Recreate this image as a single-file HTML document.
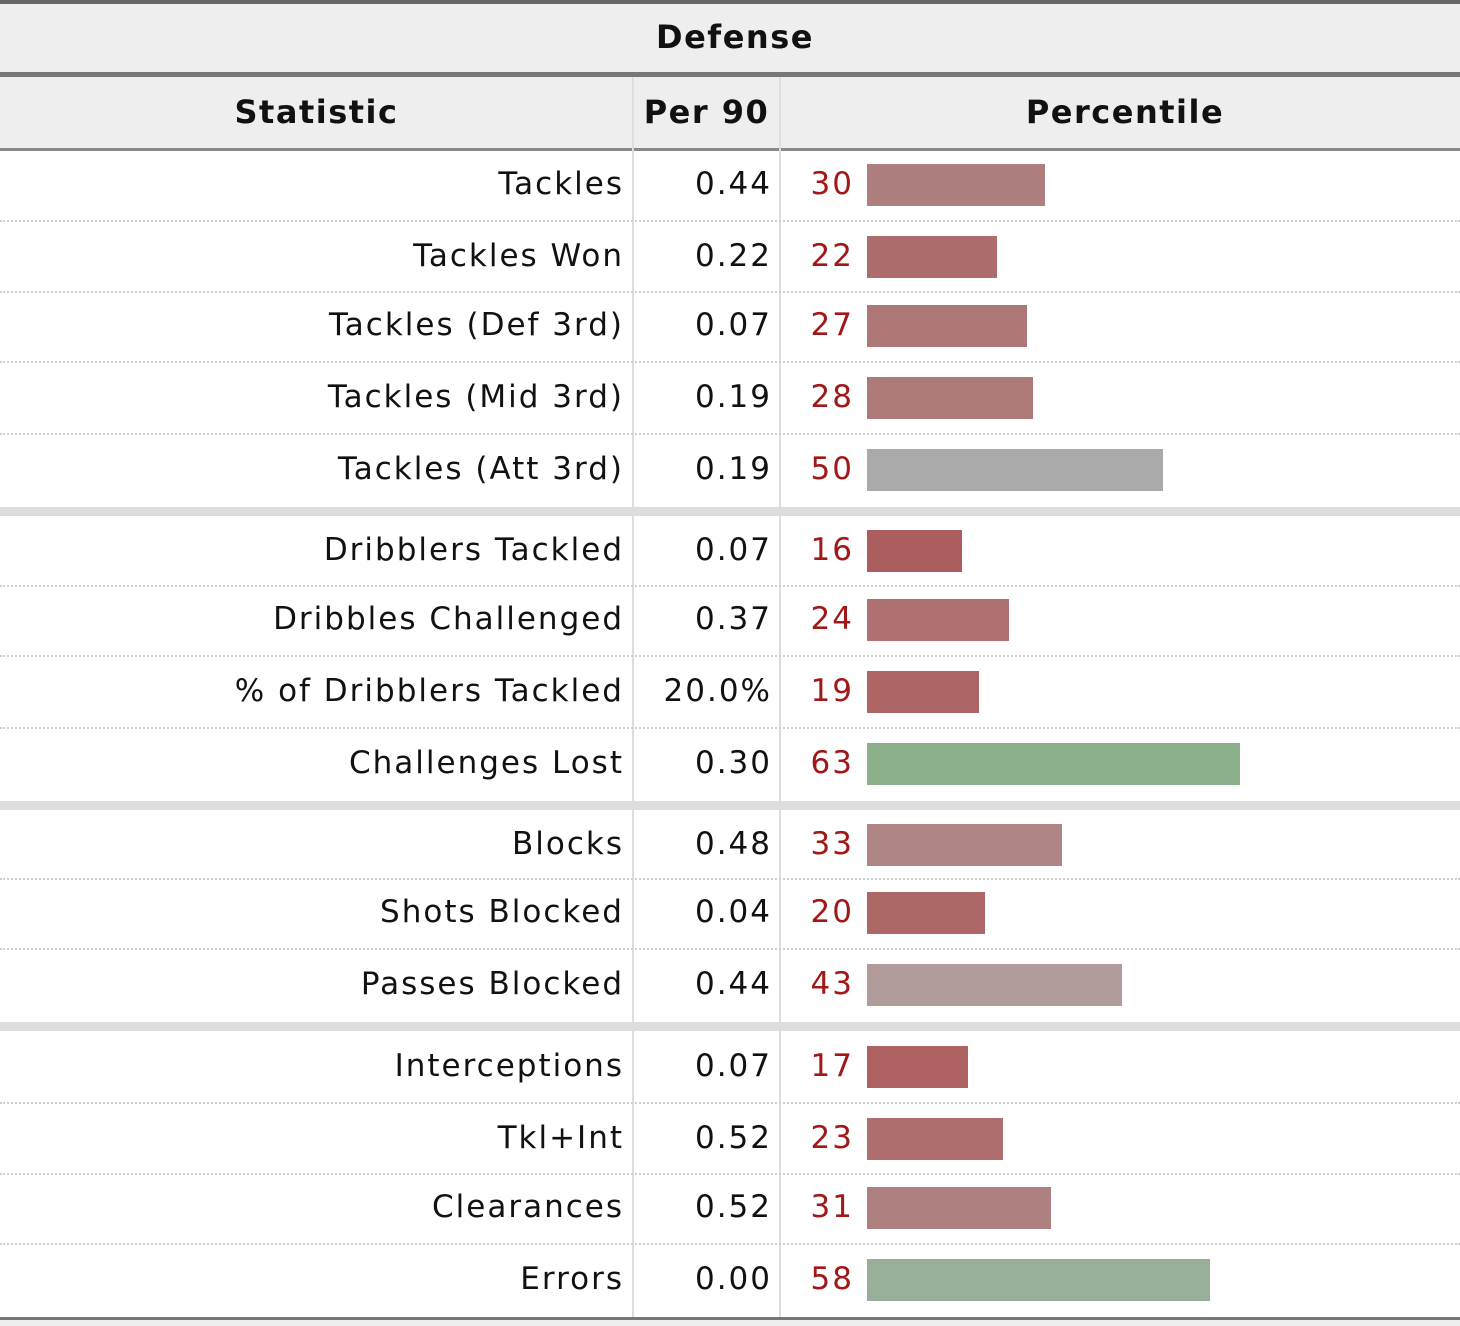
<!DOCTYPE html>
<html><head><meta charset="utf-8">
<style>
body{margin:0;width:1460px;height:1326px;background:#fff;position:relative;overflow:hidden;font-family:"DejaVu Sans","Liberation Sans",sans-serif;color:#111}
.a{position:absolute}
.hdr{font-weight:bold;font-size:32px;text-align:center;letter-spacing:1.5px}
.stat,.p90,.pnum{font-size:31px;white-space:nowrap;line-height:40px;letter-spacing:2px}
.stat{text-align:right;right:836px}
.p90{text-align:right;right:688px}
.pnum{text-align:right;right:606px;color:#a01818}
.dot{left:0;width:1460px;height:0;border-top:2px dotted #cfcfcf}
.sep{left:0;width:1460px;height:9px;background:#ddd}
.bar{left:867px;height:42px}
</style></head>
<body>
<div class="a" style="left:0;top:0;width:1460px;height:4px;background:#666"></div>
<div class="a" style="left:0;top:4px;width:1460px;height:68px;background:#eee"></div>
<div class="a hdr" style="left:0;width:1470px;top:18px">Defense</div>
<div class="a" style="left:0;top:72px;width:1460px;height:5px;background:#777"></div>
<div class="a" style="left:0;top:77px;width:1460px;height:71px;background:#eee"></div>
<div class="a hdr" style="left:0;width:633px;top:93px">Statistic</div>
<div class="a hdr" style="left:633px;width:147px;top:93px">Per 90</div>
<div class="a hdr" style="left:780px;width:690px;top:93px">Percentile</div>
<div class="a" style="left:0;top:148px;width:1460px;height:3px;background:#888"></div>
<div class="a" style="left:632px;top:77px;width:2px;height:1240px;background:#ddd"></div>
<div class="a" style="left:779px;top:77px;width:2px;height:1240px;background:#ddd"></div>
<div class="a" style="left:0;top:1317px;width:1460px;height:3px;background:#777"></div>
<div class="a" style="left:0;top:1320px;width:1460px;height:6px;background:#eee"></div>
<div id="rows"></div>
<script>
const stats=["Tackles","Tackles Won","Tackles (Def 3rd)","Tackles (Mid 3rd)","Tackles (Att 3rd)","Dribblers Tackled","Dribbles Challenged","% of Dribblers Tackled","Challenges Lost","Blocks","Shots Blocked","Passes Blocked","Interceptions","Tkl+Int","Clearances","Errors"];
const per90=["0.44","0.22","0.07","0.19","0.19","0.07","0.37","20.0%","0.30","0.48","0.04","0.44","0.07","0.52","0.52","0.00"];
const percentile=[30,22,27,28,50,16,24,19,63,33,20,43,17,23,31,58];
const groupEnds=[4,8,11];
const centers=[185,257,326,398,470,551,620,692,764,845,913,985,1067,1139,1208,1280];
const pxPerPct=5.92;
function col(p){
  if(p===50) return "rgb(170,170,170)";
  if(p<50){const t=p/45;return `rgb(${Math.round(170+7*t)},${Math.round(58+102*t)},${Math.round(58+102*t)})`;}
  const t=(p-50)/50;return `rgb(${Math.round(170-115*t)},${Math.round(170+24*t)},${Math.round(170-115*t)})`;
}
const root=document.getElementById('rows');
function mk(cls,style,txt){const d=document.createElement('div');d.className='a '+cls;d.setAttribute('style',style);if(txt!==undefined)d.textContent=txt;root.appendChild(d);return d;}
stats.forEach((s,i)=>{
  const c=centers[i];
  let el=mk('stat',`top:${c-21}px`,s);
  
  
  el=mk('p90',`top:${c-21}px`,per90[i]);
  
  
  el=mk('pnum',`top:${c-21}px`,String(percentile[i]));
  
  
  el=mk('bar',`top:${c-21}px;width:${percentile[i]*pxPerPct}px;background:${col(percentile[i])}`);
  
  
  if(i<stats.length-1){
    if(groupEnds.includes(i)){
      el=mk('sep',`top:${Math.round((c+centers[i+1])/2)-4}px`);
      
      
    }else{
      el=mk('dot',`top:${Math.round((c+centers[i+1])/2)-1}px`);
      
      
    }
  }
});
</script>
</body></html>
